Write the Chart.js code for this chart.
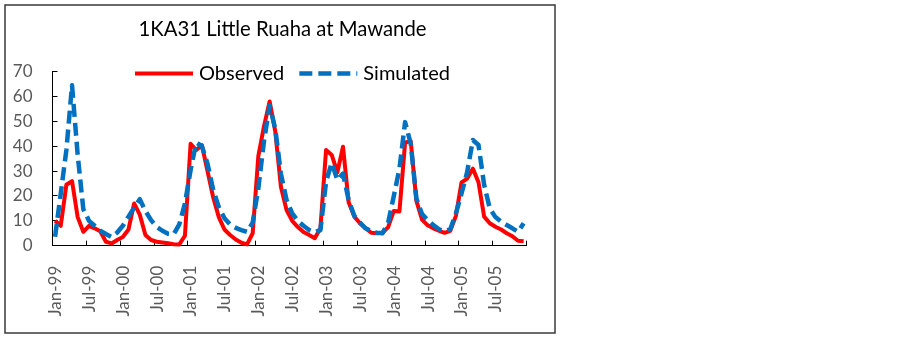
<!DOCTYPE html>
<html>
<head>
<meta charset="utf-8">
<script src="https://cdn.jsdelivr.net/npm/chart.js@4.4.1/dist/chart.umd.min.js"></script>
<style>
html,body{margin:0;padding:0;background:#fff;overflow:hidden}
canvas{display:block}
</style>
</head>
<body>
<canvas id="c" width="903" height="337"></canvas>
<script>
// ---------------- data ----------------
const titleText = '1KA31 Little Ruaha at Mawande';
const seriesNames = ['Observed', 'Simulated'];

const months = [
  'Jan-99','Feb-99','Mar-99','Apr-99','May-99','Jun-99','Jul-99','Aug-99','Sep-99','Oct-99','Nov-99','Dec-99',
  'Jan-00','Feb-00','Mar-00','Apr-00','May-00','Jun-00','Jul-00','Aug-00','Sep-00','Oct-00','Nov-00','Dec-00',
  'Jan-01','Feb-01','Mar-01','Apr-01','May-01','Jun-01','Jul-01','Aug-01','Sep-01','Oct-01','Nov-01','Dec-01',
  'Jan-02','Feb-02','Mar-02','Apr-02','May-02','Jun-02','Jul-02','Aug-02','Sep-02','Oct-02','Nov-02','Dec-02',
  'Jan-03','Feb-03','Mar-03','Apr-03','May-03','Jun-03','Jul-03','Aug-03','Sep-03','Oct-03','Nov-03','Dec-03',
  'Jan-04','Feb-04','Mar-04','Apr-04','May-04','Jun-04','Jul-04','Aug-04','Sep-04','Oct-04','Nov-04','Dec-04',
  'Jan-05','Feb-05','Mar-05','Apr-05','May-05','Jun-05','Jul-05','Aug-05','Sep-05','Oct-05','Nov-05','Dec-05'
];

const tickLabels = ['Jan-99','Jul-99','Jan-00','Jul-00','Jan-01','Jul-01','Jan-02',
                    'Jul-02','Jan-03','Jul-03','Jan-04','Jul-04','Jan-05','Jul-05'];

const observed = [
  10, 8, 24.5, 26, 11.5, 5.6, 8, 7, 5.8, 1.6, 0.9, 2.3,
  3.5, 6.5, 17, 12.5, 4.3, 2.3, 1.6, 1.3, 1, 0.6, 0.5, 4,
  41, 38.5, 40.5, 30, 19.5, 11.5, 6.5, 4.3, 2.5, 1.2, 0.5, 5,
  36, 48, 58, 46, 23.7, 14.3, 10, 7.5, 5.5, 4.3, 3, 7,
  38.5, 36.5, 29.5, 39.8, 17.5, 11.7, 9, 7, 5.2, 5, 5.2, 7.5,
  14, 13.8, 41.5, 42, 18, 10.5, 8.2, 7, 6, 5.2, 6, 12,
  25.5, 27, 31, 25.5, 11.7, 9, 7.6, 6.5, 5, 3.8, 2, 1.8
];

const simulated = [
  3.6, 21, 38.5, 64.5, 36.5, 14.7, 10, 8, 6, 4.7, 3.5, 5.3,
  8, 11.7, 15.3, 18.7, 14, 10.3, 7.6, 6, 4.8, 4.6, 8.6, 17,
  30.4, 41.5, 40, 33, 22.5, 15.5, 11, 8.5, 7.2, 6.3, 5.6, 9.3,
  23, 42, 56.5, 47, 29, 18.4, 13, 10, 8, 6.3, 5.4, 6.3,
  25.7, 33.4, 26.4, 29, 18.4, 12, 9.3, 7, 5.8, 5.2, 5, 9.3,
  20, 31, 49.7, 41, 19, 12.7, 10.3, 8.3, 6.6, 5.9, 6.6, 13,
  21, 29.7, 42.5, 40.5, 24.5, 15, 11.5, 9.7, 8.3, 7, 5.6, 9
];

// ---------------- chart ----------------
const MID_MONTH = 0.46;          // values are dated mid-month on a monthly date axis
const MONTHS_PER_TICK = 6;

const obsPoints = months.map((m, i) => ({ x: i + MID_MONTH, y: observed[i] }));
const simPoints = months.map((m, i) => ({ x: i + MID_MONTH, y: simulated[i] }));

Chart.defaults.font.family = 'Lato, "Open Sans", sans-serif';

const framePlugin = {
  id: 'frame',
  afterLayout(chart) {
    // let the y tick labels use the space left of the axis
    chart.scales.y.left = 0;
  },
  beforeDraw(chart) {
    const ctx = chart.ctx;
    ctx.save();
    ctx.fillStyle = '#fff';
    ctx.fillRect(0, 0, chart.width, chart.height);
    ctx.strokeStyle = '#3a3a3a';
    ctx.lineWidth = 1.5;
    ctx.strokeRect(5, 5, 550, 328);
    ctx.restore();
  }
};

const legendPlugin = {
  id: 'insideLegend',
  afterDraw(chart) {
    const ctx = chart.ctx;
    ctx.save();
    ctx.font = '20px Lato';
    ctx.textBaseline = 'middle';
    ctx.textAlign = 'left';
    const y = 73.5;
    let x = 135;
    chart.data.datasets.forEach(ds => {
      ctx.beginPath();
      ctx.strokeStyle = ds.borderColor;
      ctx.lineWidth = ds.borderWidth;
      ctx.setLineDash(ds.borderDash || []);
      ctx.lineCap = 'butt';
      ctx.moveTo(x, y);
      ctx.lineTo(x + 58, y);
      ctx.stroke();
      ctx.setLineDash([]);
      ctx.fillStyle = '#000';
      ctx.fillText(ds.label, x + 64, y);
      x += 64 + ctx.measureText(ds.label).width + 15;
    });
    ctx.restore();
  }
};

new Chart(document.getElementById('c'), {
  type: 'line',
  data: {
    datasets: [
      {
        label: seriesNames[0],
        data: obsPoints,
        borderColor: '#FF0000',
        borderWidth: 4,
        pointRadius: 0,
        tension: 0,
        borderJoinStyle: 'round',
        clip: false,
        order: 1
      },
      {
        label: seriesNames[1],
        data: simPoints,
        borderColor: '#0070C0',
        borderWidth: 4.5,
        borderDash: [13, 6],
        pointRadius: 0,
        tension: 0,
        borderJoinStyle: 'round',
        clip: false,
        order: 0
      }
    ]
  },
  options: {
    responsive: false,
    animation: false,
    devicePixelRatio: 1,
    layout: { padding: { left: 38.3, right: 376.3, top: 0, bottom: 0 } },
    plugins: {
      legend: { display: false },
      tooltip: { enabled: false },
      title: {
        display: true,
        text: titleText,
        color: '#000',
        font: { family: 'Lato', size: 20.3, weight: 'normal' },
        padding: { top: 17.5, bottom: 29.8 }
      }
    },
    scales: {
      x: {
        type: 'linear',
        min: 0,
        max: months.length,
        afterFit(scale) { scale.height = 337 - 245.7; },
        ticks: {
          stepSize: MONTHS_PER_TICK,
          autoSkip: false,
          minRotation: 90,
          maxRotation: 90,
          padding: 25,
          labelOffset: 3,
          color: '#595959',
          font: { family: 'Lato', size: 17 },
          callback(value) {
            const k = Math.round(value / MONTHS_PER_TICK);
            return k < tickLabels.length ? tickLabels[k] : '';
          }
        },
        grid: {
          display: true,
          drawOnChartArea: false,
          drawTicks: true,
          tickLength: -5,
          color: '#000',
          tickColor: '#000',
          tickWidth: 1
        },
        border: { display: true, color: '#000', width: 1 }
      },
      y: {
        type: 'linear',
        min: 0,
        max: 70,
        afterFit(scale) { scale.width = 52.5 - 38.3; },
        ticks: {
          stepSize: 10,
          padding: 25,
          color: '#595959',
          font: { family: 'Lato', size: 17 }
        },
        grid: {
          display: true,
          drawOnChartArea: false,
          drawTicks: true,
          tickLength: -5,
          color: '#000',
          tickColor: '#000',
          tickWidth: 1
        },
        border: { display: true, color: '#000', width: 1 }
      }
    }
  },
  plugins: [framePlugin, legendPlugin]
});
</script>
</body>
</html>
